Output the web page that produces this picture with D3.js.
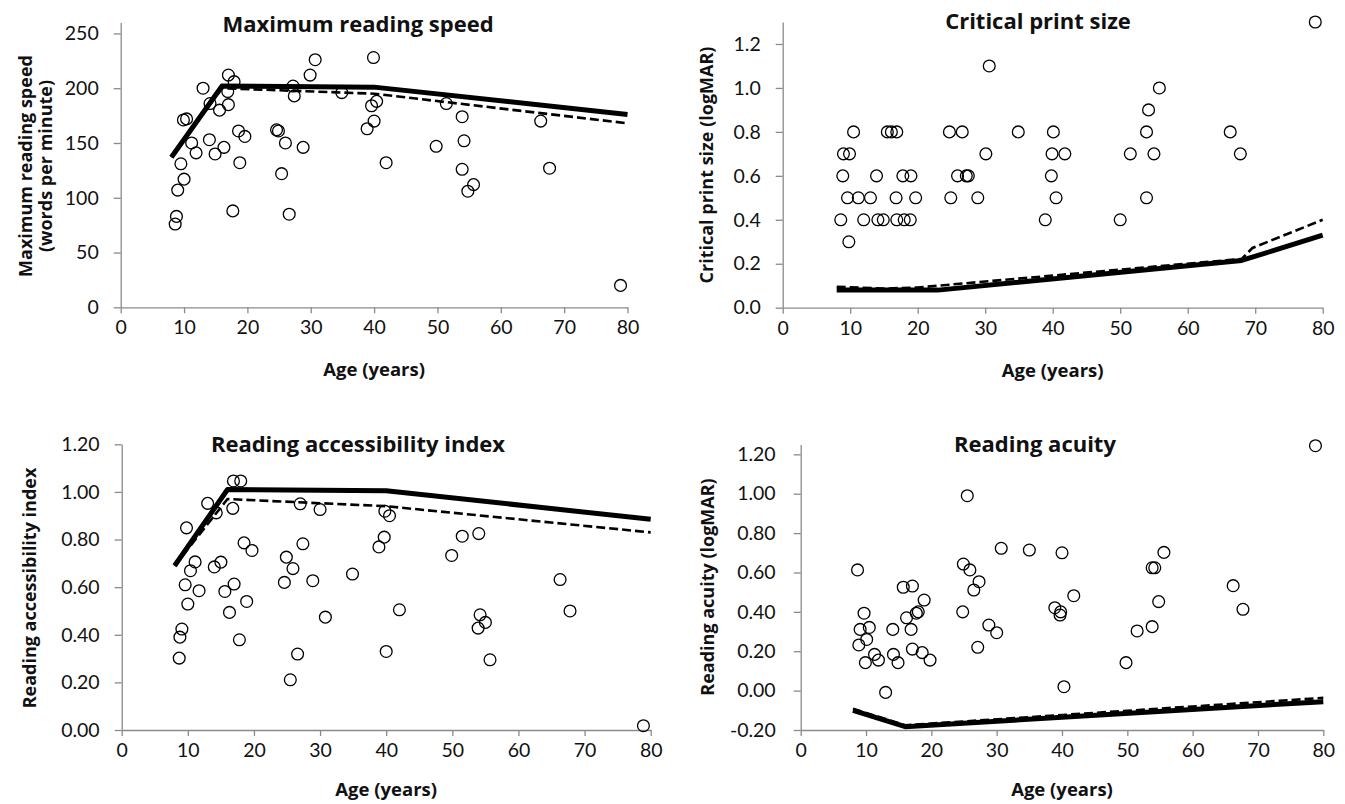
<!DOCTYPE html>
<html>
<head>
<meta charset="utf-8">
<script src="https://cdn.jsdelivr.net/npm/d3@7/dist/d3.min.js"></script>
<style>
  html, body { margin: 0; padding: 0; background: #fff; }
  svg { display: block; font-family: Lato, "Open Sans", sans-serif; }
</style>
</head>
<body>
<svg id="chart" width="1345" height="804"></svg>
<script>
// ---------------- DATA ----------------
const xTicks = [0, 10, 20, 30, 40, 50, 60, 70, 80];
const xTickLabels = ["0", "10", "20", "30", "40", "50", "60", "70", "80"];

// Panel 1: Maximum reading speed
const mrsAge = [13,14.1,9.9,10.4,17,17.9,16.9,17,15.6,11.2,11.9,14,14.9,16.3,18.6,19.6,18.8,9.5,10,9,8.8,8.6,17.7,24.6,24.9,26,25.4,26.6,28.8,27.2,27.4,29.9,30.7,34.9,39.9,39.6,40.4,40,38.9,41.9,51.4,53.9,54.2,49.8,53.9,55.7,54.8,66.3,67.7,78.9];
const mrsVal = [200,186,171,172,212,206,197,185,180,150,141,153,140,146,161,156,132,131,117,107,83,76,88,162,161,150,122,85,146,202,193,212,226,196,228,184,188,170,163,132,186,174,152,147,126,112,106,170,127,20];
const mrsFitAge = [8, 16, 40, 80];
const mrsFitSolid = [137, 202, 201, 176];
const mrsFitDashAge = [8, 16, 40, 80];
const mrsFitDash = [137, 200, 195, 168];
const mrsYTicks = [0, 50, 100, 150, 200, 250];
const mrsYTickLabels = ["0", "50", "100", "150", "200", "250"];

// Panel 2: Critical print size
const cpsAge = [10.5,15.5,16.1,16.9,24.7,26.6,34.9,40.1,53.9,66.3,
                9.0,9.9,30.1,39.9,41.8,51.5,55.0,67.8,
                8.9,13.9,17.8,19.0,25.9,27.2,27.5,39.8,
                9.6,11.2,13.0,16.8,19.7,24.9,28.9,40.5,53.9,
                8.6,12.0,14.1,14.9,16.9,18.0,18.9,38.9,50.0,
                9.8,30.6,55.8,54.2,78.9];
const cpsVal = [0.8,0.8,0.8,0.8,0.8,0.8,0.8,0.8,0.8,0.8,
                0.7,0.7,0.7,0.7,0.7,0.7,0.7,0.7,
                0.6,0.6,0.6,0.6,0.6,0.6,0.6,0.6,
                0.5,0.5,0.5,0.5,0.5,0.5,0.5,0.5,0.5,
                0.4,0.4,0.4,0.4,0.4,0.4,0.4,0.4,0.4,
                0.3,1.1,1.0,0.9,1.3];
const cpsFitAge = [8, 23, 68, 80];
const cpsFitSolid = [0.08, 0.08, 0.215, 0.33];
const cpsFitDashAge = [8, 15, 20, 68, 69.6, 80];
const cpsFitDash = [0.095, 0.087, 0.092, 0.222, 0.272, 0.40];
const cpsYTicks = [0, 0.2, 0.4, 0.6, 0.8, 1.0, 1.2];
const cpsYTickLabels = ["0.0", "0.2", "0.4", "0.6", "0.8", "1.0", "1.2"];

// Panel 3: Reading accessibility index
const raiAge = [16.9,18.0,13.0,14.3,16.8,9.8,18.5,19.7,11.1,10.4,14.0,15.0,9.6,11.7,15.6,17.0,10.0,16.3,18.9,9.1,8.8,8.7,17.8,24.9,25.9,24.6,27.4,27.0,30.0,28.9,30.8,26.6,25.5,34.9,39.8,40.5,39.7,38.9,40.0,42.0,51.5,54.0,49.9,54.2,55.0,53.9,55.7,66.3,67.8,78.9];
const raiVal = [1.046,1.046,0.952,0.912,0.931,0.849,0.786,0.754,0.706,0.669,0.685,0.705,0.61,0.585,0.582,0.613,0.529,0.494,0.54,0.424,0.39,0.302,0.379,0.726,0.678,0.62,0.782,0.95,0.926,0.627,0.474,0.319,0.211,0.655,0.919,0.90,0.81,0.769,0.33,0.505,0.814,0.825,0.733,0.484,0.452,0.428,0.295,0.632,0.50,0.018];
const raiFitAge = [8, 16, 40, 80];
const raiFitSolid = [0.69, 1.01, 1.005, 0.885];
const raiFitDashAge = [8, 16, 40, 80];
const raiFitDash = [0.69, 0.97, 0.94, 0.83];
const raiYTicks = [0, 0.2, 0.4, 0.6, 0.8, 1.0, 1.2];
const raiYTickLabels = ["0.00", "0.20", "0.40", "0.60", "0.80", "1.00", "1.20"];

// Panel 4: Reading acuity
const raAge = [8.7,9.7,9.1,10.5,10.1,8.9,9.9,11.3,11.9,13.0,14.1,14.2,14.9,15.7,17.1,16.2,16.9,17.7,18.0,18.9,17.1,18.6,19.8,25.5,24.9,25.9,27.3,26.5,24.8,28.8,30.0,27.1,30.7,35.0,40.0,38.9,39.8,39.7,40.3,41.8,55.6,53.8,54.2,54.8,51.5,53.8,49.8,66.2,67.7,78.8];
const raVal = [0.613,0.393,0.311,0.321,0.26,0.232,0.142,0.184,0.155,-0.009,0.311,0.184,0.142,0.525,0.531,0.37,0.311,0.393,0.40,0.46,0.211,0.193,0.155,0.99,0.643,0.613,0.553,0.511,0.40,0.333,0.294,0.22,0.723,0.714,0.70,0.421,0.40,0.384,0.02,0.482,0.702,0.624,0.624,0.452,0.303,0.325,0.142,0.533,0.413,1.244];
const raFitAge = [8, 16, 80];
const raFitSolid = [-0.10, -0.183, -0.056];
const raFitDashAge = [8, 16, 80];
const raFitDash = [-0.092, -0.176, -0.037];
const raYTicks = [-0.2, 0, 0.2, 0.4, 0.6, 0.8, 1.0, 1.2];
const raYTickLabels = ["-0.20", "0.00", "0.20", "0.40", "0.60", "0.80", "1.00", "1.20"];

// ---------------- LAYOUT ----------------
const panels = [
  { title: "Maximum reading speed", titleX: 358, titleY: 32,
    yLabel: ["Maximum reading speed", "(words per minute)"], yLabelX: [32, 52], yLabelY: 166,
    left: 120.7, right: 627.5, top: 22.5, bottom: 307.3, yDomain: [0, 260],
    ages: mrsAge, vals: mrsVal, fitAge: mrsFitAge, fitSolid: mrsFitSolid, dashAge: mrsFitDashAge, fitDash: mrsFitDash,
    yTicks: mrsYTicks, yTickLabels: mrsYTickLabels, yPad: 15, xTitleOffset: 69 },
  { title: "Critical print size", titleX: 1038, titleY: 28.5,
    yLabel: ["Critical print size (logMAR)"], yLabelX: [713], yLabelY: 165,
    left: 782.7, right: 1322.7, top: 22, bottom: 307.7, yDomain: [0, 1.3],
    ages: cpsAge, vals: cpsVal, fitAge: cpsFitAge, fitSolid: cpsFitSolid, dashAge: cpsFitDashAge, fitDash: cpsFitDash,
    yTicks: cpsYTicks, yTickLabels: cpsYTickLabels, yPad: 15, xTitleOffset: 69 },
  { title: "Reading accessibility index", titleX: 358, titleY: 452,
    yLabel: ["Reading accessibility index"], yLabelX: [36], yLabelY: 588,
    left: 121.7, right: 650.7, top: 444.3, bottom: 730, yDomain: [0, 1.2],
    ages: raiAge, vals: raiVal, fitAge: raiFitAge, fitSolid: raiFitSolid, dashAge: raiFitDashAge, fitDash: raiFitDash,
    yTicks: raiYTicks, yTickLabels: raiYTickLabels, yPad: 15, xTitleOffset: 66 },
  { title: "Reading acuity", titleX: 1035, titleY: 452,
    yLabel: ["Reading acuity (logMAR)"], yLabelX: [714], yLabelY: 587,
    left: 800.7, right: 1323.3, top: 444.5, bottom: 730, yDomain: [-0.2, 1.25],
    ages: raAge, vals: raVal, fitAge: raFitAge, fitSolid: raFitSolid, dashAge: raFitDashAge, fitDash: raFitDash,
    yTicks: raYTicks, yTickLabels: raYTickLabels, yPad: 18, xTitleOffset: 66 }
];

const AXIS = "#8a8a8a";
const BOLD = "'Open Sans', Lato, sans-serif";
const svg = d3.select("#chart");

panels.forEach(p => {
  const x = d3.scaleLinear().domain([0, 80]).range([p.left, p.right]);
  const y = d3.scaleLinear().domain(p.yDomain).range([p.bottom, p.top]);
  const g = svg.append("g");

  // y axis
  const yAxis = d3.axisLeft(y).tickValues(p.yTicks).tickSize(7).tickSizeOuter(0).tickPadding(p.yPad)
    .tickFormat((d, i) => p.yTickLabels[i]);
  const ya = g.append("g").attr("transform", `translate(${p.left},0)`).call(yAxis);
  ya.select(".domain").attr("stroke", AXIS).attr("stroke-width", 1.3);
  ya.selectAll(".tick line").attr("stroke", AXIS).attr("stroke-width", 1.3);
  ya.selectAll(".tick text").attr("fill", "#111").style("font-size", "19.5px").style("font-family", "Lato");

  // x axis
  const xAxis = d3.axisBottom(x).tickValues(xTicks).tickSize(6).tickSizeOuter(0).tickPadding(7)
    .tickFormat((d, i) => xTickLabels[i]);
  const xa = g.append("g").attr("transform", `translate(0,${p.bottom})`).call(xAxis);
  xa.select(".domain").attr("stroke", AXIS).attr("stroke-width", 1.3);
  xa.selectAll(".tick line").attr("stroke", AXIS).attr("stroke-width", 1.3);
  xa.selectAll(".tick text").attr("fill", "#111").style("font-size", "19.5px").style("font-family", "Lato");

  // scatter
  g.append("g").selectAll("circle").data(p.ages.map((a, i) => [a, p.vals[i]])).join("circle")
    .attr("cx", d => x(d[0])).attr("cy", d => y(d[1])).attr("r", 5.9)
    .attr("fill", "none").attr("stroke", "#000").attr("stroke-width", 1.3);

  // fits
  const line = d3.line().x(d => x(d[0])).y(d => y(d[1]));
  g.append("path").datum(p.fitAge.map((a, i) => [a, p.fitSolid[i]]))
    .attr("d", line).attr("fill", "none").attr("stroke", "#000").attr("stroke-width", 5)
    .attr("stroke-linejoin", "round");
  g.append("path").datum(p.dashAge.map((a, i) => [a, p.fitDash[i]]))
    .attr("d", line).attr("fill", "none").attr("stroke", "#000").attr("stroke-width", 2.6)
    .attr("stroke-dasharray", "9,4");

  // title
  g.append("text").attr("x", p.titleX).attr("y", p.titleY).attr("text-anchor", "middle")
    .style("font-family", BOLD).style("font-weight", "bold").style("font-size", "22px")
    .attr("fill", "#111").text(p.title);

  // x title
  g.append("text").attr("x", (p.left + p.right) / 2).attr("y", p.bottom + p.xTitleOffset)
    .attr("text-anchor", "middle").style("font-family", BOLD).style("font-weight", "bold")
    .style("font-size", "18.5px").attr("fill", "#111").text("Age (years)");

  // y title
  p.yLabel.forEach((t, i) => {
    g.append("text").attr("transform", `translate(${p.yLabelX[i]},${p.yLabelY}) rotate(-90)`)
      .attr("text-anchor", "middle").style("font-family", BOLD).style("font-weight", "bold")
      .style("font-size", "18px").attr("fill", "#111").text(t);
  });
});
</script>
</body>
</html>
